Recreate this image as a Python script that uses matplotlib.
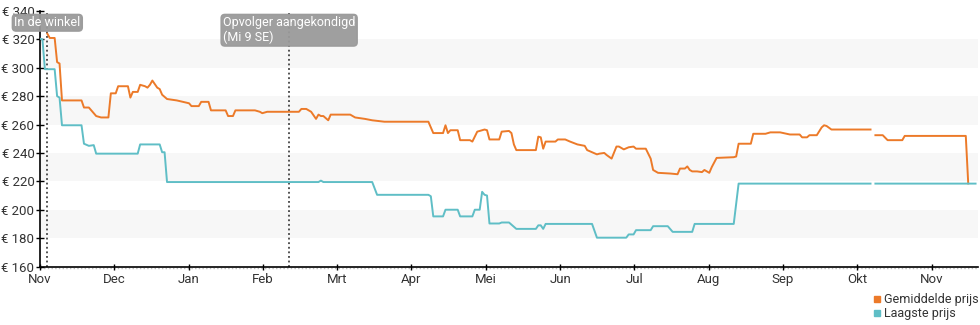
import matplotlib
matplotlib.use("Agg")
import matplotlib.pyplot as plt
import numpy as np

plt.rcParams['font.family'] = ['Roboto', 'DejaVu Sans']

# days since 1 Nov, average price (nan = no data)
avg_days = [3, 4, 6, 7, 8, 9, 17, 18, 20, 22, 23, 25, 28, 29, 31, 32, 36, 37, 38, 40,
            41, 43, 44, 45, 46, 48, 49, 50, 52, 56, 61, 62, 65, 66, 69, 70, 76, 77, 79, 80,
            88, 90, 91, 93, 106, 107, 109, 111, 113, 114, 115, 116, 118, 119, 127, 129, 133, 136, 141, 159,
            160, 161, 165, 166, 167, 168, 171, 172, 176, 177, 179, 182, 183, 184, 188, 189, 192, 193, 194, 195,
            203, 204, 205, 206, 207, 211, 212, 215, 217, 220, 223, 224, 226, 228, 229, 231, 232, 234, 236, 237,
            239, 241, 243, 244, 248, 250, 251, 253, 258, 261, 262, 264, 265, 266, 267, 269, 271, 272, 274, 275,
            277, 284, 285, 286, 291, 292, 297, 299, 303, 307, 311, 312, 314, 315, 318, 320, 321, 322, 324, 340,
            341, 342, 345, 347, 353, 354, 379, 380]
avg_price = [324, 321, 321, 304, 303, 277, 277, 272, 272, 268, 266, 265, 265, 282, 282, 287, 287, 279, 283, 283,
             288, 287, 286, 288, 291, 286, 285, 281, 278, 277, 275, 273, 273, 276, 276, 270, 270, 266, 266, 270,
             270, 269, 268, 269, 269, 271, 271, 269, 264, 267, 266, 266, 263, 267, 267, 265, 264, 263, 262, 262,
             258, 254, 254, 259.5, 254, 256, 256, 249, 249, 248, 255, 256.5, 256, 249.5, 249.5, 255, 255.5, 254, 246, 242,
             242, 251.5, 251, 243, 248, 248, 249.5, 249.5, 248, 246, 245, 242, 240.5, 239, 239.5, 240, 238.5, 236, 244.5, 244.5,
             242.5, 244, 244.5, 243, 243, 236, 228, 226, 225.5, 225, 229, 229, 230.5, 228, 227, 227, 226.5, 228, 226, 230,
             236.5, 237, 237.5, 246.5, 246.5, 253.5, 253.5, 254.5, 254.5, 253, 253, 251, 251, 252.5, 252.5, 258, 259.5, 259, 256.5, 256.5,
             np.nan, 252.5, 252.5, 249, 249, 252, 252, 218.5]

# days since 1 Nov, lowest price
low_days = [0, 1, 2, 6, 7, 8, 9, 17, 18, 20, 22, 23, 40, 41, 49, 50, 51, 52, 114, 115,
            116, 136, 138, 159, 160, 161, 165, 166, 171, 172, 177, 178, 180, 181, 182, 183, 184, 188, 189, 192,
            194, 195, 203, 204, 205, 206, 207, 226, 228, 240, 241, 243, 244, 250, 251, 257, 259, 267, 268, 284,
            286, 340, 341, 342, 383]
low_price = [320.5, 320, 299, 299, 280, 279, 259.5, 259.5, 246.5, 245, 245.5, 239.5, 239.5, 246, 246, 240.5, 240.5, 219.5, 219.5, 220.5,
             219.5, 219.5, 210.5, 210.5, 209.5, 195.3, 195.3, 200, 200, 195.3, 195.3, 200, 200, 212.6, 210.5, 210, 190.3, 190.3, 191, 191,
             188, 186.5, 186.5, 189, 189, 186.5, 190, 190, 180.3, 180.3, 182.6, 182.6, 185.6, 185.6, 188.4, 188.4, 184.4, 184.4, 190, 190,
             218.4, 218.4, np.nan, 218.4, 218.4]

month_labels = ['Nov', 'Dec', 'Jan', 'Feb', 'Mrt', 'Apr', 'Mei', 'Jun', 'Jul', 'Aug', 'Sep', 'Okt', 'Nov']
events = [(3, 'In de winkel'), (102, 'Opvolger aangekondigd\n(Mi 9 SE)')]

ORANGE = '#ec7a29'
CYAN = '#5fbec6'
TEXT = '#333333'

fig = plt.figure(figsize=(9.8, 3.25), dpi=100)
ax = fig.add_axes([40 / 980, 1 - 266.5 / 325, 938 / 980, 255.5 / 325])

# alternating bands
for lo in (180, 220, 260, 300):
    ax.axhspan(lo, lo + 20, color='#f7f7f7', zorder=0, lw=0)

ax.plot(avg_days, avg_price, color=ORANGE, lw=1.4, zorder=3)
ax.plot(low_days, low_price, color=CYAN, lw=1.4, zorder=3)

ax.set_xlim(0, 384)
ax.set_ylim(160, 340)
ax.set_yticks(np.arange(160, 341, 20))
ax.set_yticklabels([f'€ {v}' for v in range(160, 341, 20)])
ax.set_xticks(np.arange(len(month_labels)) * 365 / 12)
ax.set_xticklabels(month_labels)

for s in ('top', 'right'):
    ax.spines[s].set_visible(False)
for s in ('left', 'bottom'):
    ax.spines[s].set_color('black')
    ax.spines[s].set_linewidth(1.2)
ax.tick_params(axis='y', direction='inout', length=6, width=1, labelsize=9.5, colors='black',
               labelcolor=TEXT, pad=1)
ax.tick_params(axis='x', direction='inout', length=5, width=1, labelsize=9.5, colors='black',
               labelcolor=TEXT, pad=2)

# faint dotted rule under the x axis
ax.axhline(158.8, ls=':', color='#bbbbbb', lw=1, clip_on=False, zorder=1)

# event markers
for day, label in events:
    ax.axvline(day, color='#222222', ls=(0, (1.2, 1.8)), lw=1.1, zorder=2)
    ax.text(day, 336.3, label, ha='center', va='top', multialignment='left',
            color='white', fontsize=9, zorder=5, linespacing=1.15,
            bbox=dict(boxstyle='round,pad=0.15,rounding_size=0.3', fc='#9a9a9a',
                      ec='#9a9a9a', alpha=0.95))

# legend in the lower right corner
handles = [plt.Line2D([], [], marker='s', ls='', color=ORANGE, markersize=5),
           plt.Line2D([], [], marker='s', ls='', color=CYAN, markersize=5)]
fig.legend(handles, ['Gemiddelde prijs', 'Laagste prijs'], loc='upper left',
           bbox_to_anchor=(868 / 980, 1 - 287 / 325), frameon=False, fontsize=9,
           handlelength=0.5, handletextpad=0.25, labelspacing=0.1, borderpad=0,
           labelcolor=TEXT)

fig.savefig('out.png', dpi=100)
